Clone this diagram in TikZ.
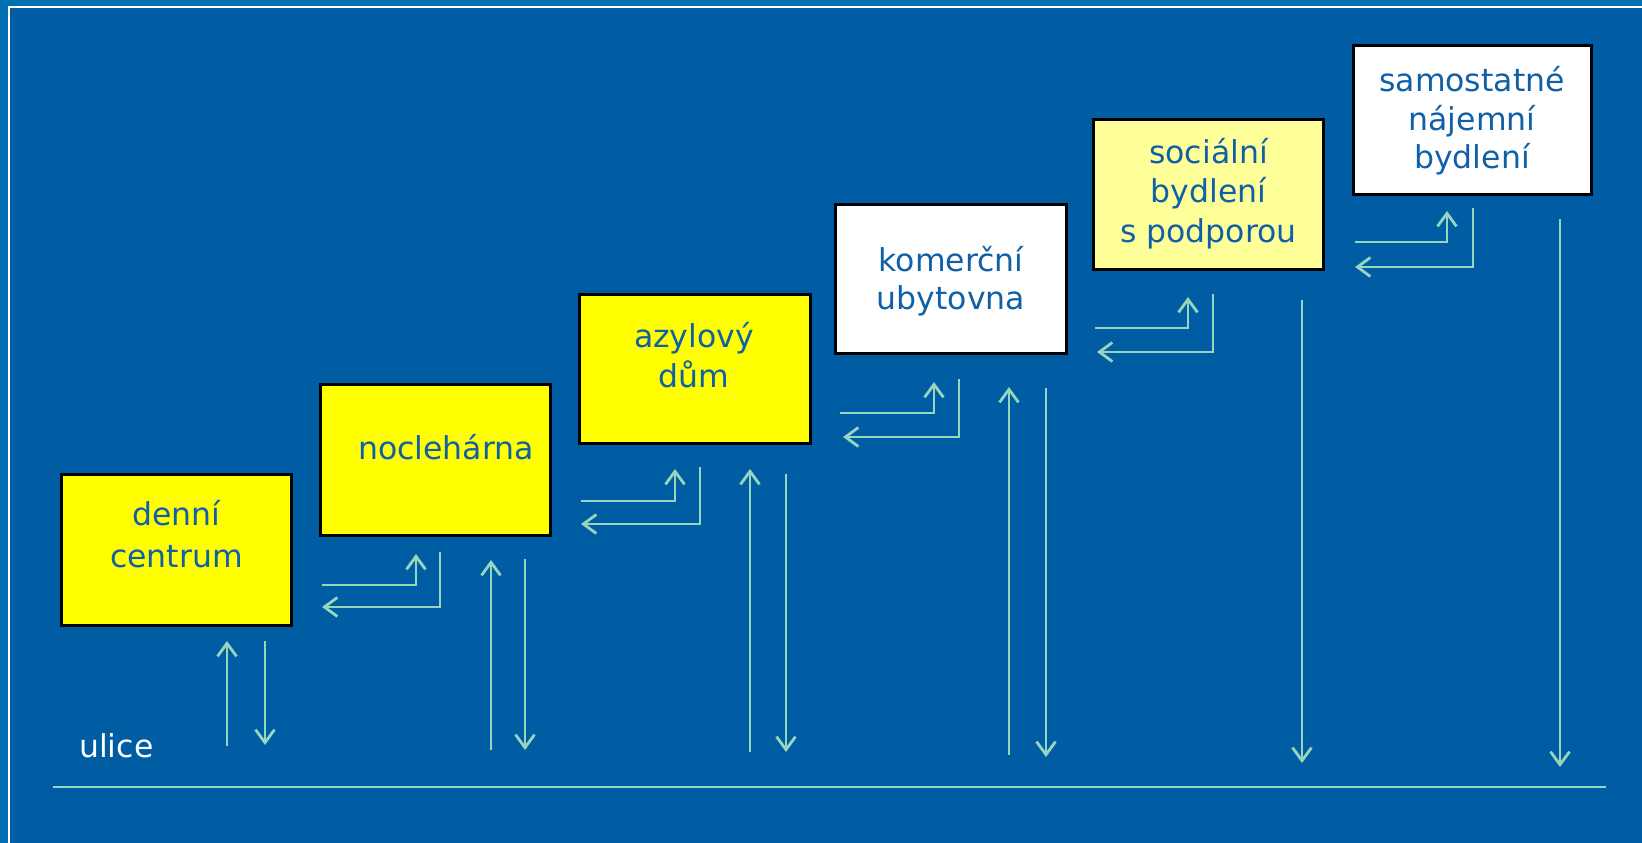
\documentclass[tikz,border=0pt]{standalone}
\usepackage{fontspec}
\setmainfont{DejaVu Sans}
\usetikzlibrary{arrows.meta}
\definecolor{bgblue}{RGB}{0,92,163}
\definecolor{edgeblue}{RGB}{0,112,176}
\definecolor{mint}{RGB}{150,214,190}
\definecolor{txtblue}{RGB}{16,96,168}
\definecolor{pureyellow}{RGB}{255,255,0}
\definecolor{paleyellow}{RGB}{255,255,153}
\tikzset{
  boxnode/.style={draw=black, line width=3pt, rectangle, inner sep=0pt},
  lbl/.style={anchor=base, inner sep=0pt, text=txtblue, font=\fontsize{31.5}{38}\selectfont},
  conn/.style={draw=mint, line width=2.8pt, -{Straight Barb[length=13pt,width=19pt]}},
  plainline/.style={draw=mint, line width=2.8pt}
}
\begin{document}
\begin{tikzpicture}[x=1pt,y=-1pt]
% background and frame
\fill[edgeblue] (0,0) rectangle (1642,843);
\fill[white] (8,6) rectangle (1642,843);
\fill[bgblue] (10,8) rectangle (1642,843);
\useasboundingbox (0,0) rectangle (1642,843);

% boxes
\node[boxnode, fill=pureyellow, minimum width=230pt, minimum height=151pt] (dc) at (176.5,550) {};
\node[boxnode, fill=pureyellow, minimum width=230pt, minimum height=151pt] (noc) at (435.5,460) {};
\node[boxnode, fill=pureyellow, minimum width=231pt, minimum height=149pt] (azy) at (695,369) {};
\node[boxnode, fill=white, minimum width=231pt, minimum height=149pt] (kom) at (951,279) {};
\node[boxnode, fill=paleyellow, minimum width=230pt, minimum height=150pt] (soc) at (1208.5,194.5) {};
\node[boxnode, fill=white, minimum width=238pt, minimum height=149pt] (sam) at (1472.5,120) {};

% texts
\node[lbl] (dc1) at (176.5,525) {denní};
\node[lbl] (dc2) at (176.5,567) {centrum};
\node[lbl] (noc1) at (446,459) {noclehárna};
\node[lbl] (azy1) at (694,347) {azylový};
\node[lbl] (azy2) at (694,387) {dům};
\node[lbl] (kom1) at (951,271) {komerční};
\node[lbl] (kom2) at (951,309) {ubytovna};
\node[lbl] (soc1) at (1208.5,163) {sociální};
\node[lbl] (soc2) at (1208.5,202) {bydlení};
\node[lbl] (soc3) at (1208.5,242) {s podporou};
\node[lbl] (sam1) at (1472,92) {samostatné};
\node[lbl] (sam2) at (1472,130) {nájemní};
\node[lbl] (sam3) at (1472,168) {bydlení};
\node[anchor=base west, inner sep=0pt, text=white, font=\fontsize{31.5}{38}\selectfont] (ulice) at (79,757) {ulice};

% ground line
\coordinate (g1) at (53,787);
\coordinate (g2) at (1606,787);
\draw[plainline] (g1) -- (g2);

% vertical pairs
\coordinate (a1s) at (227,746); \coordinate (a1e) at (227,641);
\coordinate (a2s) at (265,641); \coordinate (a2e) at (265,745);
\draw[conn] (a1s) -- (a1e);
\draw[conn] (a2s) -- (a2e);

\coordinate (c1s) at (491,750); \coordinate (c1e) at (491,560);
\coordinate (c2s) at (525,559); \coordinate (c2e) at (525,750);
\draw[conn] (c1s) -- (c1e);
\draw[conn] (c2s) -- (c2e);

\coordinate (e1s) at (750,752); \coordinate (e1e) at (750,469);
\coordinate (e2s) at (786,474); \coordinate (e2e) at (786,752);
\draw[conn] (e1s) -- (e1e);
\draw[conn] (e2s) -- (e2e);

\coordinate (gg1s) at (1009,755); \coordinate (gg1e) at (1009,387);
\coordinate (gg2s) at (1046,388); \coordinate (gg2e) at (1046,757);
\draw[conn] (gg1s) -- (gg1e);
\draw[conn] (gg2s) -- (gg2e);

\coordinate (i1s) at (1302,300); \coordinate (i1e) at (1302,763);
\draw[conn] (i1s) -- (i1e);
\coordinate (k1s) at (1560,219); \coordinate (k1e) at (1560,767);
\draw[conn] (k1s) -- (k1e);

% L-shaped pairs
\coordinate (b1s) at (322,585); \coordinate (b1e) at (416,554);
\coordinate (b2s) at (440,552); \coordinate (b2e) at (322,607);
\draw[conn] (b1s) -| (b1e);
\draw[conn] (b2s) |- (b2e);

\coordinate (d1s) at (581,501); \coordinate (d1e) at (675,469);
\coordinate (d2s) at (700,467); \coordinate (d2e) at (581,524);
\draw[conn] (d1s) -| (d1e);
\draw[conn] (d2s) |- (d2e);

\coordinate (f1s) at (840,413); \coordinate (f1e) at (934,382);
\coordinate (f2s) at (959,379); \coordinate (f2e) at (843,437);
\draw[conn] (f1s) -| (f1e);
\draw[conn] (f2s) |- (f2e);

\coordinate (h1s) at (1095,328); \coordinate (h1e) at (1188,297);
\coordinate (h2s) at (1213,294); \coordinate (h2e) at (1097,352);
\draw[conn] (h1s) -| (h1e);
\draw[conn] (h2s) |- (h2e);

\coordinate (j1s) at (1355,242); \coordinate (j1e) at (1447,211);
\coordinate (j2s) at (1473,208); \coordinate (j2e) at (1355,267);
\draw[conn] (j1s) -| (j1e);
\draw[conn] (j2s) |- (j2e);
\end{tikzpicture}
\end{document}
